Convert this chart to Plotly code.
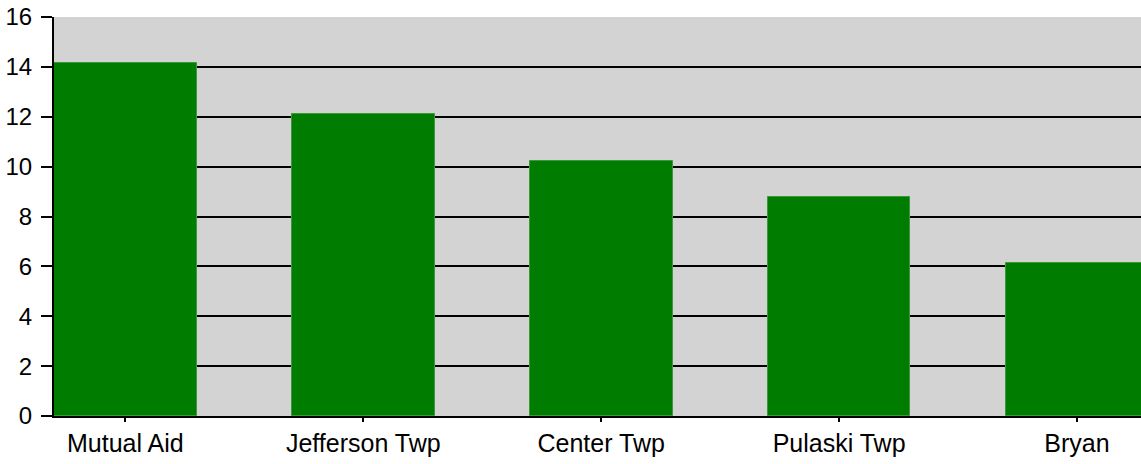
import plotly.graph_objects as go

categories = ["Mutual Aid", "Jefferson Twp", "Center Twp", "Pulaski Twp", "Bryan"]
values = [14.17, 12.11, 10.24, 8.79, 6.12]
y_ticks = [0, 2, 4, 6, 8, 10, 12, 14, 16]

fig = go.Figure(
    go.Bar(
        x=list(range(len(categories))),
        y=values,
        width=0.6,
        marker=dict(color="#007C00", line=dict(color="#3A9A3A", width=1)),
        hoverinfo="skip",
    )
)

fig.update_layout(
    width=1141,
    height=464,
    margin=dict(l=54, r=0, t=17, b=48),
    paper_bgcolor="white",
    plot_bgcolor="#D3D3D3",
    showlegend=False,
    font=dict(family="Liberation Sans, Arial, sans-serif", size=24, color="black"),
    bargap=0,
)

fig.update_xaxes(
    range=[-0.3, 4.269],
    tickmode="array",
    tickvals=list(range(len(categories))),
    ticktext=categories,
    tickfont=dict(size=25),
    showgrid=False,
    showline=True,
    linecolor="black",
    linewidth=2,
    ticks="outside",
    ticklen=4,
    tickwidth=1.5,
    tickcolor="black",
    zeroline=False,
)

fig.update_yaxes(
    range=[0, 16],
    tickmode="array",
    tickvals=y_ticks,
    tickfont=dict(size=24),
    showgrid=True,
    gridcolor="black",
    gridwidth=2,
    showline=True,
    linecolor="black",
    linewidth=2,
    ticks="outside",
    ticklen=11,
    tickwidth=1.5,
    tickcolor="black",
    zeroline=False,
    ticklabelstandoff=4,
)

fig.write_html(
    "out.html",
    config={"displayModeBar": False},
    post_script="document.body.style.margin='0';document.body.style.overflow='hidden';",
)
